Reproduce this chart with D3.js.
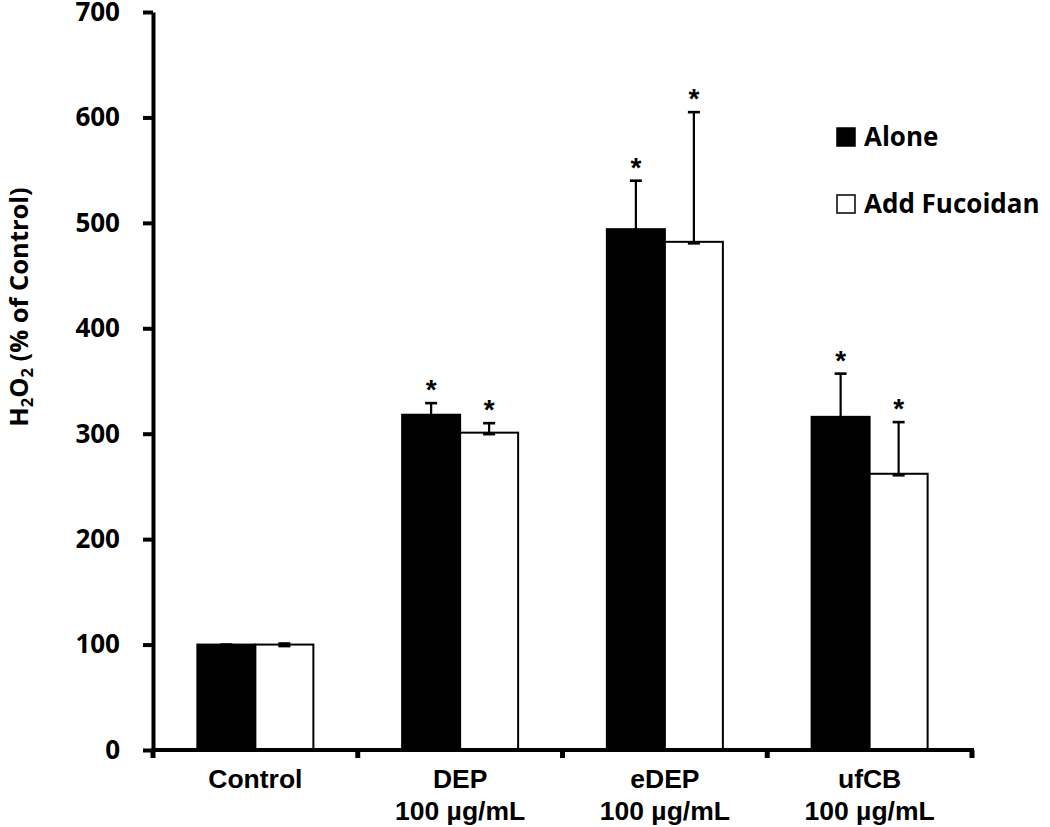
<!DOCTYPE html>
<html>
<head>
<meta charset="utf-8">
<script src="https://cdn.jsdelivr.net/npm/d3@7"></script>
<style>
  html, body { margin: 0; padding: 0; background: #fff; }
  svg { display: block; }
</style>
</head>
<body>
<svg id="chart" width="1050" height="827"></svg>
<script>
// ---- data ----
const categories = ["Control", "DEP", "eDEP", "ufCB"];
const categorySubLabels = ["", "100 µg/mL", "100 µg/mL", "100 µg/mL"];
const seriesNames = ["Alone", "Add Fucoidan"];
const aloneValues = [100, 318, 494, 316];
const aloneErrors = [0, 11, 46, 41];
const fucoidanValues = [100, 301, 482, 262];
const fucoidanErrors = [1, 9, 123, 49];
const aloneSignificant = [false, true, true, true];
const fucoidanSignificant = [false, true, true, true];
const yTicks = [0, 100, 200, 300, 400, 500, 600, 700];

(function () {
// ---- build rows ----
const rows = [];
categories.forEach((c, i) => {
  rows.push({cat: c, series: seriesNames[0], value: aloneValues[i], err: aloneErrors[i], sig: aloneSignificant[i]});
  rows.push({cat: c, series: seriesNames[1], value: fucoidanValues[i], err: fucoidanErrors[i], sig: fucoidanSignificant[i]});
});

const svg = d3.select("#chart");
const mLeft = 153, mRight = 972, mTop = 12, mBottom = 750;

const x0 = d3.scaleBand().domain(categories).range([mLeft, mRight]).padding(0);
const x1 = d3.scaleBand().domain(seriesNames).range([0, x0.bandwidth()]).paddingInner(0).paddingOuter(0.765);
const y = d3.scaleLinear().domain([0, 700]).range([mBottom, mTop]);
const fill = d3.scaleOrdinal().domain(seriesNames).range(["#000", "#fff"]);

// ---- bars ----
const g = svg.append("g");
g.selectAll("rect.bar").data(rows).enter().append("rect")
  .attr("class", "bar")
  .attr("x", d => x0(d.cat) + x1(d.series))
  .attr("y", d => y(d.value))
  .attr("width", x1.bandwidth())
  .attr("height", d => y(0) - y(d.value))
  .attr("fill", d => fill(d.series))
  .attr("stroke", "#000")
  .attr("stroke-width", 2);

// ---- error bars ----
const capW = 12;
const eb = g.selectAll("g.err").data(rows).enter().append("g").attr("class", "err")
  .attr("transform", d => `translate(${x0(d.cat) + x1(d.series) + x1.bandwidth() / 2},0)`);
eb.append("line")
  .attr("x1", 0).attr("x2", 0)
  .attr("y1", d => y(d.value)).attr("y2", d => y(d.value + d.err))
  .attr("stroke", "#000").attr("stroke-width", 2.2);
eb.append("line")
  .attr("x1", -capW / 2).attr("x2", capW / 2)
  .attr("y1", d => y(d.value + d.err)).attr("y2", d => y(d.value + d.err))
  .attr("stroke", "#000").attr("stroke-width", 2.6);
eb.append("line")
  .attr("x1", -capW / 2).attr("x2", capW / 2)
  .attr("y1", d => y(d.value) + 1.5).attr("y2", d => y(d.value) + 1.5)
  .attr("stroke", "#000").attr("stroke-width", 2.6);

// ---- asterisks ----
g.selectAll("text.star").data(rows.filter(d => d.sig)).enter().append("text")
  .attr("class", "star")
  .attr("x", d => x0(d.cat) + x1(d.series) + x1.bandwidth() / 2)
  .attr("y", d => y(d.value + d.err) - 20 + 16)
  .attr("text-anchor", "middle")
  .attr("font-family", "'Liberation Sans', Arial, sans-serif")
  .attr("font-weight", "bold")
  .attr("font-size", 28)
  .text("*");

// ---- y axis ----
const yAxis = d3.axisLeft(y).tickValues(yTicks).tickSize(10).tickSizeOuter(0).tickPadding(23);
const ya = svg.append("g").attr("transform", `translate(${mLeft},0)`).call(yAxis);
ya.select(".domain").attr("stroke", "#000").attr("stroke-width", 4);
ya.selectAll(".tick line").attr("stroke", "#000").attr("stroke-width", 4);
ya.selectAll(".tick text")
  .attr("fill", "#000")
  .attr("font-family", "'Open Sans', sans-serif")
  .attr("font-weight", "bold")
  .attr("font-size", 26);

// ---- x axis ----
svg.append("line")
  .attr("x1", mLeft - 2).attr("x2", mRight + 2)
  .attr("y1", y(0)).attr("y2", y(0))
  .attr("stroke", "#000").attr("stroke-width", 4);
const boundaries = categories.map(c => x0(c)).concat([x0(categories[categories.length - 1]) + x0.bandwidth()]);
svg.selectAll("line.xtick").data(boundaries).enter().append("line")
  .attr("class", "xtick")
  .attr("x1", d => d).attr("x2", d => d)
  .attr("y1", y(0)).attr("y2", y(0) + 8)
  .attr("stroke", "#000").attr("stroke-width", 5);

const xl = svg.selectAll("text.xlab").data(categories).enter().append("text")
  .attr("class", "xlab")
  .attr("x", d => x0(d) + x0.bandwidth() / 2)
  .attr("y", 788)
  .attr("text-anchor", "middle")
  .attr("font-family", "'Liberation Sans', Arial, sans-serif")
  .attr("font-weight", "bold")
  .attr("font-size", 26.5);
xl.append("tspan").text(d => d);
xl.append("tspan")
  .attr("x", d => x0(d) + x0.bandwidth() / 2)
  .attr("dy", 32)
  .text((d, i) => categorySubLabels[i]);

// ---- y label ----
const yl = svg.append("text")
  .attr("transform", "rotate(-90)")
  .attr("x", -307).attr("y", 27.5)
  .attr("text-anchor", "middle")
  .attr("font-family", "'Open Sans', sans-serif")
  .attr("font-weight", "bold")
  .attr("font-size", 25.5);
yl.append("tspan").text("H");
yl.append("tspan").attr("font-size", 16.5).attr("dy", 5).text("2");
yl.append("tspan").attr("dy", -5).text("O");
yl.append("tspan").attr("font-size", 16.5).attr("dy", 5).text("2");
yl.append("tspan").attr("dy", -5).text(" (% of Control)");

// ---- legend ----
const lg = svg.append("g").selectAll("g").data(seriesNames).enter().append("g")
  .attr("transform", (d, i) => `translate(837,${128 + i * 67})`);
lg.append("rect")
  .attr("x", 0).attr("y", 0).attr("width", 18).attr("height", 18)
  .attr("fill", d => fill(d)).attr("stroke", "#000").attr("stroke-width", 1.5);
lg.append("text")
  .attr("x", 27).attr("y", 18)
  .attr("font-family", "'Open Sans', sans-serif")
  .attr("font-weight", "bold")
  .attr("font-size", 26)
  .text(d => d);
})();
</script>
</body>
</html>
